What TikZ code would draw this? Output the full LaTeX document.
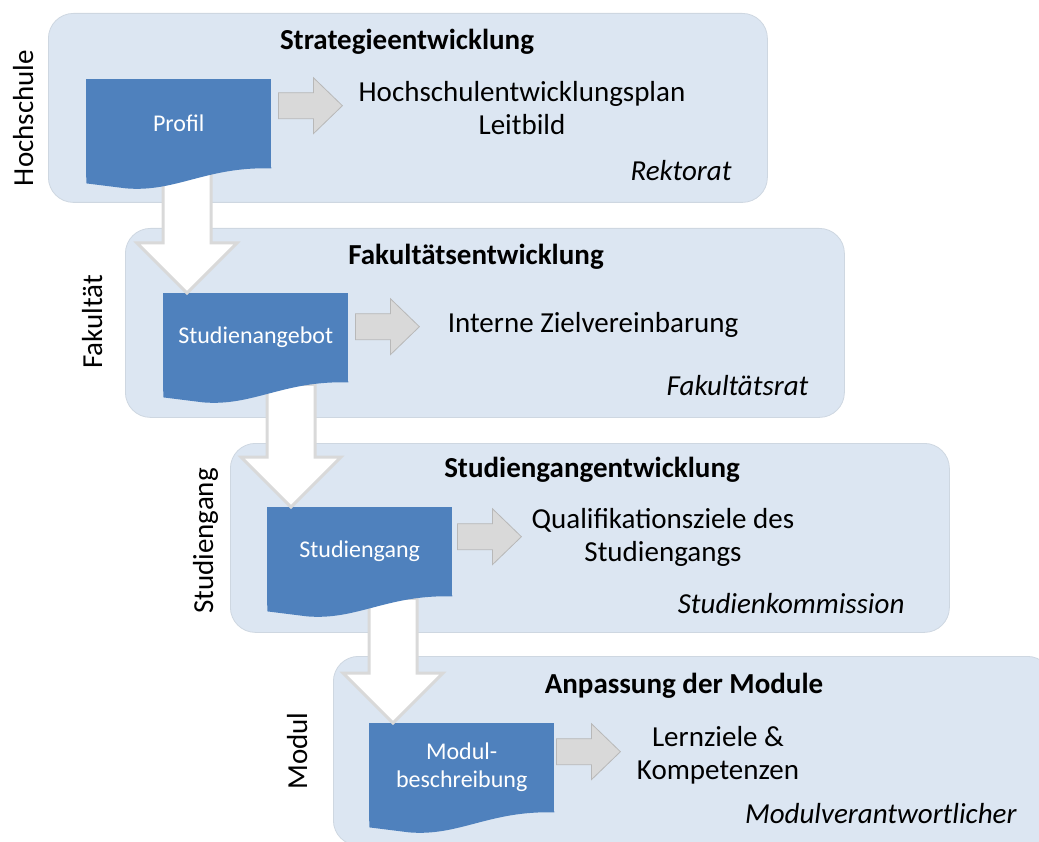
\documentclass[tikz,border=0pt]{standalone}
\usepackage{fontspec}
\setmainfont{Carlito}
\usepackage{tikz}
\usetikzlibrary{calc}
\usepackage{xcolor}
\definecolor{panelblue}{HTML}{DCE6F2}
\definecolor{docblue}{HTML}{4F81BD}
\definecolor{arrowgray}{HTML}{D9D9D9}

\begin{document}
\begin{tikzpicture}[x=1pt,y=-1pt]
    \tikzset{font={\fontsize{29pt}{33pt}\selectfont},
      panel/.style={fill=panelblue,draw=panelblue!85!gray,line width=.8pt,rounded corners=25pt,
        minimum width=719pt,minimum height=189pt,anchor=north west,inner sep=0pt},
      doc/.style={fill=docblue,text=white,minimum width=185pt,minimum height=89pt,anchor=north west,
        inner sep=0pt,align=center,font={\fontsize{24pt}{28pt}\selectfont}},
      wave/.style={fill=docblue},
      sidearrow/.style={fill=arrowgray,draw=arrowgray!85!black,line width=.8pt,line join=miter},
      downarrow/.style={fill=white,draw=arrowgray,line width=3pt,line join=miter},
      level/.style={rotate=90,anchor=base},
      head/.style={font={\bfseries\fontsize{29pt}{33pt}\selectfont},anchor=base},
      result/.style={align=center,anchor=base},
      board/.style={font={\itshape\fontsize{29pt}{33pt}\selectfont},anchor=base east}}
    \useasboundingbox (0,0) rectangle (1039,842);
    % Ebenen
    \node[panel] (hochschule) at (48,13) {};
    \node[panel] (fakultaet) at (125,228) {};
    \node[panel] (studiengang) at (230,443) {};
    \node[panel] (modul) at (333,656) {};
    % Dokumente
    \node[doc] (profil) at (86,79) {Profil};
    \node[doc] (angebot) at (163,293) {Studienangebot};
    \node[doc] (gang) at (267,507) {Studiengang};
    \node[doc] (beschreibung) at (369,723) {Modul-\\beschreibung};
    % Pfeile nach unten
    \coordinate (t1) at ([xshift=24]angebot.north west);
    \coordinate (t2) at ([xshift=24]gang.north west);
    \coordinate (t3) at ([xshift=24]beschreibung.north west);
    \draw[downarrow] (t1) -- ++(-50,-50) -- ++(26,0) -- ($(t1 |- profil.south)+(-24,2)$)
      -- ($(t1 |- profil.south)+(24,2)$) -- ($(t1)+(24,-50)$) -- ++(26,0) -- cycle;
    \draw[downarrow] (t2) -- ++(-50,-50) -- ++(26,0) -- ($(t2 |- angebot.south)+(-24,2)$)
      -- ($(t2 |- angebot.south)+(24,2)$) -- ($(t2)+(24,-50)$) -- ++(26,0) -- cycle;
    \draw[downarrow] (t3) -- ++(-50,-50) -- ++(26,0) -- ($(t3 |- gang.south)+(-24,2)$)
      -- ($(t3 |- gang.south)+(24,2)$) -- ($(t3)+(24,-50)$) -- ++(26,0) -- cycle;
    % Wellen
    \fill[wave] ([yshift=1]profil.south east) -- ++(0,1) .. controls +(-65,-2) and +(50,4) .. ++(-145,20)
      .. controls +(-20,-2) .. ++(-40,-5) -- ([yshift=1]profil.south west) -- cycle;
    \fill[wave] ([yshift=1]angebot.south east) -- ++(0,1) .. controls +(-65,-2) and +(50,4) .. ++(-145,20)
      .. controls +(-20,-2) .. ++(-40,-5) -- ([yshift=1]angebot.south west) -- cycle;
    \fill[wave] ([yshift=1]gang.south east) -- ++(0,1) .. controls +(-65,-2) and +(50,4) .. ++(-145,20)
      .. controls +(-20,-2) .. ++(-40,-5) -- ([yshift=1]gang.south west) -- cycle;
    \fill[wave] ([yshift=1]beschreibung.south east) -- ++(0,1) .. controls +(-65,-2) and +(50,4) .. ++(-145,20)
      .. controls +(-20,-2) .. ++(-40,-5) -- ([yshift=1]beschreibung.south west) -- cycle;
    % Pfeile nach rechts
    \draw[sidearrow] ([shift={(7,-31)}]profil.east) -- ++(35,0) -- ++(0,-15) -- ++(29,28)
      -- ++(-29,28) -- ++(0,-15) -- ++(-35,0) -- cycle;
    \draw[sidearrow] ([shift={(7,-24)}]angebot.east) -- ++(35,0) -- ++(0,-15) -- ++(29,28)
      -- ++(-29,28) -- ++(0,-15) -- ++(-35,0) -- cycle;
    \draw[sidearrow] ([shift={(5,-28)}]gang.east) -- ++(35,0) -- ++(0,-15) -- ++(29,28)
      -- ++(-29,28) -- ++(0,-15) -- ++(-35,0) -- cycle;
    \draw[sidearrow] ([shift={(2,-29)}]beschreibung.east) -- ++(35,0) -- ++(0,-15) -- ++(29,28)
      -- ++(-29,28) -- ++(0,-15) -- ++(-35,0) -- cycle;
    % Texte
    \node[head] (strategie) at (407,50) {Strategieentwicklung};
    \node[result] (plan) at (522,135) {Hochschulentwicklungsplan\\Leitbild};
    \node[board] (rektorat) at (735,181) {Rektorat};
    \node[level] (hs) at (33,118) {Hochschule};
    \node[head] (fakentw) at (476,265) {Fakultätsentwicklung};
    \node[result] (ziel) at (593,333) {Interne Zielvereinbarung};
    \node[board] (rat) at (812,395) {Fakultätsrat};
    \node[level] (fak) at (102,322) {Fakultät};
    \node[head] (sgentw) at (592,477) {Studiengangentwicklung};
    \node[result] (quali) at (663,561) {Qualifikationsziele des\\Studiengangs};
    \node[board] (kommission) at (908,613) {Studienkommission};
    \node[level] (sg) at (213,541) {Studiengang};
    \node[head] (anpassung) at (684,693) {Anpassung der Module};
    \node[result] (lernziele) at (718,779) {Lernziele \&\\Kompetenzen};
    \node[board] (verantw) at (1020,823) {Modulverantwortlicher};
    \node[level] (mod) at (307,751) {Modul};
\end{tikzpicture}
\end{document}
